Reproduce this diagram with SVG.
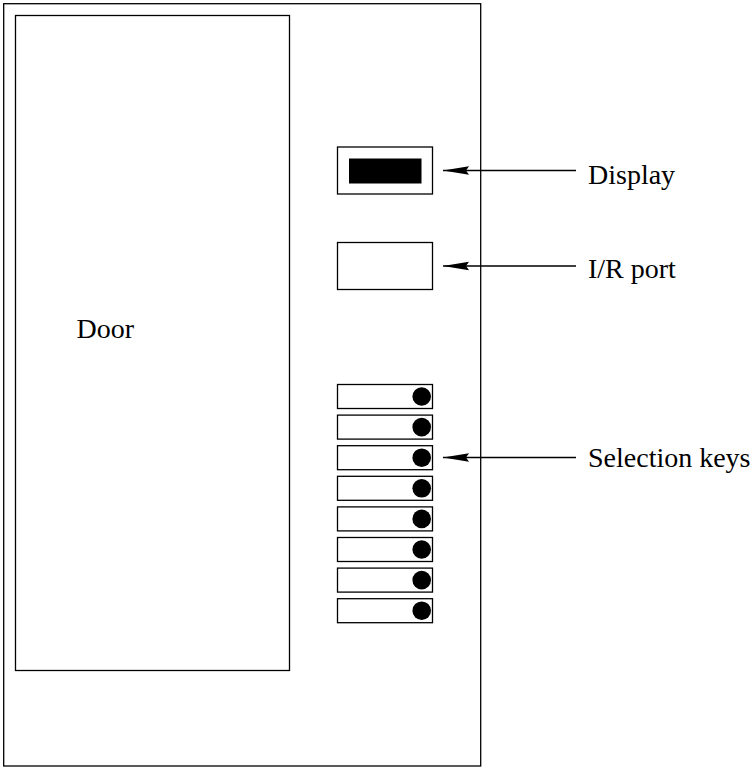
<svg xmlns="http://www.w3.org/2000/svg" width="754" height="769" viewBox="0 0 754 769">
<defs>
<style>
.box{fill:#fff;stroke:#000;stroke-width:1.3}
.lbl{font-family:'Liberation Serif','Times New Roman',serif;font-size:28px;fill:#000}
.con{stroke:#000;stroke-width:1.3;fill:none}
.dot{fill:#000}
</style>
<marker id="ah" markerUnits="userSpaceOnUse" markerWidth="30" markerHeight="12" refX="26" refY="6" orient="auto" viewBox="0 0 30 12">
<path d="M26,6 L0,1.8 L3,6 L0,10.2 Z" fill="#000"/>
</marker>
</defs>
<rect width="754" height="769" fill="#fff"/>
<g id="cabinet"><rect class="box" x="3.7" y="3.7" width="477" height="762.3"/></g>
<g id="door"><rect class="box" x="15.5" y="15.5" width="274" height="655"/>
<text class="lbl" font-family="Liberation Serif, serif" x="76.5" y="337.5">Door</text></g>
<g id="display"><rect class="box" x="337.5" y="147" width="95" height="47"/>
<rect x="349" y="158.5" width="72.5" height="25" fill="#000"/></g>
<g id="irport"><rect class="box" x="337.5" y="242.5" width="95" height="47"/></g>
<g id="keys">
<rect class="box" x="337.5" y="384.5" width="95" height="24"/><circle class="dot" cx="421.7" cy="396.5" r="9.3"/>
<rect class="box" x="337.5" y="415.1" width="95" height="24"/><circle class="dot" cx="421.7" cy="427.1" r="9.3"/>
<rect class="box" x="337.5" y="445.7" width="95" height="24"/><circle class="dot" cx="421.7" cy="457.7" r="9.3"/>
<rect class="box" x="337.5" y="476.3" width="95" height="24"/><circle class="dot" cx="421.7" cy="488.3" r="9.3"/>
<rect class="box" x="337.5" y="506.9" width="95" height="24"/><circle class="dot" cx="421.7" cy="518.9" r="9.3"/>
<rect class="box" x="337.5" y="537.5" width="95" height="24"/><circle class="dot" cx="421.7" cy="549.5" r="9.3"/>
<rect class="box" x="337.5" y="568.1" width="95" height="24"/><circle class="dot" cx="421.7" cy="580.1" r="9.3"/>
<rect class="box" x="337.5" y="598.7" width="95" height="24"/><circle class="dot" cx="421.7" cy="610.7" r="9.3"/>
</g>
<g id="connectors">
<line class="con" x1="576" y1="170.5" x2="443" y2="170.5" marker-end="url(#ah)"/>
<line class="con" x1="576" y1="266" x2="443" y2="266" marker-end="url(#ah)"/>
<line class="con" x1="576" y1="457.5" x2="443" y2="457.5" marker-end="url(#ah)"/>
</g>
<g id="labels" font-family="Liberation Serif, serif">
<text class="lbl" x="588" y="183.5">Display</text>
<text class="lbl" x="588" y="278">I/R port</text>
<text class="lbl" x="588" y="467">Selection keys</text>
</g>
</svg>
